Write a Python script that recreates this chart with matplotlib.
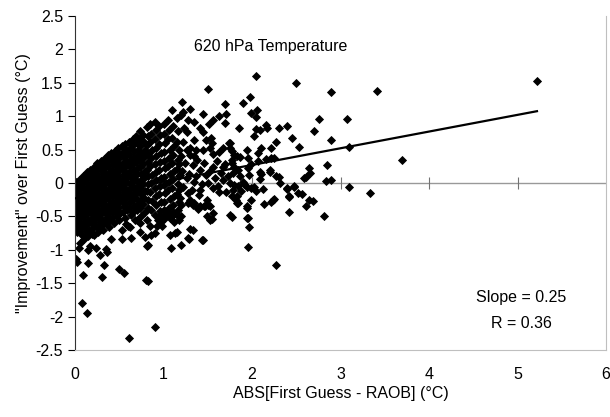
import numpy as np
import matplotlib
matplotlib.use('Agg')
import matplotlib.pyplot as plt

#-----------------------------------------------------------------------------#
# Data (x = |first guess - RAOB|, y = improvement), deg C
#-----------------------------------------------------------------------------#

# dense cloud near the origin
dense_pts = [
    (0.01,0.02),(0.02,-0.05),(0.01,-0.12),(0.03,-0.2),(0.02,-0.28),(0.01,-0.35),(0.03,-0.42),(0.02,-0.5),(0.01,-0.58),(0.03,-0.66),(0.02,-0.74),
    (0.05,0.05),(0.06,-0.02),(0.05,-0.09),(0.07,-0.16),(0.06,-0.24),(0.05,-0.31),(0.07,-0.38),(0.06,-0.46),(0.05,-0.54),(0.07,-0.61),(0.06,-0.69),(0.08,-0.78),
    (0.09,0.1),(0.1,0.03),(0.09,-0.06),(0.11,-0.13),(0.1,-0.21),(0.09,-0.27),(0.11,-0.35),(0.1,-0.42),(0.09,-0.5),(0.11,-0.57),(0.1,-0.65),(0.12,-0.72),(0.1,-0.84),
    (0.13,0.16),(0.14,0.08),(0.13,0.0),(0.15,-0.08),(0.14,-0.16),(0.13,-0.24),(0.15,-0.31),(0.14,-0.39),(0.13,-0.47),(0.15,-0.55),(0.14,-0.62),(0.16,-0.7),(0.15,-0.8),
    (0.17,0.2),(0.18,0.12),(0.19,0.04),(0.18,-0.04),(0.19,-0.12),(0.17,-0.2),(0.19,-0.28),(0.18,-0.36),(0.17,-0.44),(0.19,-0.52),(0.18,-0.6),(0.2,-0.67),(0.19,-0.76),
    (0.21,0.24),(0.22,0.16),(0.21,0.08),(0.23,0.0),(0.22,-0.08),(0.21,-0.16),(0.23,-0.24),(0.22,-0.32),(0.21,-0.4),(0.23,-0.48),(0.22,-0.56),(0.24,-0.64),
    (0.25,0.3),(0.26,0.22),(0.25,0.13),(0.27,0.05),(0.26,-0.03),(0.25,-0.11),(0.27,-0.19),(0.26,-0.27),(0.25,-0.35),(0.27,-0.43),(0.26,-0.51),(0.28,-0.59),(0.27,-0.68),
    (0.29,0.33),(0.3,0.26),(0.31,0.18),(0.3,0.09),(0.29,0.01),(0.31,-0.07),(0.3,-0.15),(0.29,-0.23),(0.31,-0.31),(0.3,-0.39),(0.29,-0.47),(0.31,-0.55),(0.3,-0.63),(0.32,-0.71),
    (0.33,0.36),(0.34,0.29),(0.33,0.21),(0.35,0.13),(0.34,0.05),(0.33,-0.03),(0.35,-0.11),(0.34,-0.19),(0.33,-0.27),(0.35,-0.35),(0.34,-0.43),(0.36,-0.51),(0.35,-0.6),
    (0.37,0.42),(0.38,0.34),(0.37,0.26),(0.39,0.17),(0.38,0.09),(0.37,0.01),(0.39,-0.07),(0.38,-0.15),(0.37,-0.23),(0.39,-0.31),(0.38,-0.39),(0.37,-0.47),(0.39,-0.56),(0.38,-0.66),
    (0.41,0.45),(0.42,0.37),(0.43,0.29),(0.42,0.2),(0.41,0.12),(0.43,0.04),(0.42,-0.04),(0.41,-0.12),(0.43,-0.2),(0.42,-0.28),(0.41,-0.36),(0.43,-0.44),(0.42,-0.52),(0.44,-0.6),
    (0.45,0.48),(0.46,0.4),(0.45,0.32),(0.47,0.24),(0.46,0.15),(0.45,0.07),(0.47,-0.01),(0.46,-0.09),(0.45,-0.17),(0.47,-0.25),(0.46,-0.33),(0.45,-0.41),(0.47,-0.5),
    (0.49,0.52),(0.5,0.44),(0.49,0.36),(0.51,0.27),(0.5,0.19),(0.49,0.11),(0.51,0.03),(0.5,-0.05),(0.49,-0.13),(0.51,-0.21),(0.5,-0.29),(0.49,-0.37),(0.51,-0.45),(0.5,-0.55),
    (0.53,0.55),(0.54,0.47),(0.55,0.39),(0.54,0.3),(0.53,0.22),(0.55,0.14),(0.54,0.06),(0.53,-0.02),(0.55,-0.1),(0.54,-0.18),(0.53,-0.26),(0.55,-0.34),(0.54,-0.43),(0.56,-0.52),
    (0.57,0.58),(0.58,0.5),(0.57,0.41),(0.59,0.33),(0.58,0.25),(0.57,0.17),(0.59,0.09),(0.58,0.01),(0.57,-0.07),(0.59,-0.15),(0.58,-0.23),(0.57,-0.31),(0.59,-0.4),(0.58,-0.62),
    (0.61,0.62),(0.62,0.53),(0.61,0.44),(0.63,0.35),(0.62,0.26),(0.61,0.17),(0.63,0.08),(0.62,-0.01),(0.61,-0.1),(0.63,-0.19),(0.62,-0.28),(0.61,-0.38),(0.63,-0.48),
    (0.65,0.66),(0.66,0.57),(0.67,0.48),(0.66,0.38),(0.65,0.29),(0.67,0.2),(0.66,0.11),(0.65,0.02),(0.67,-0.07),(0.66,-0.16),(0.65,-0.25),(0.67,-0.34),(0.66,-0.44),(0.68,-0.55),
    (0.69,0.7),(0.7,0.6),(0.71,0.5),(0.7,0.4),(0.69,0.32),(0.71,0.23),(0.7,0.14),(0.69,0.05),(0.71,-0.04),(0.7,-0.13),(0.69,-0.22),(0.71,-0.31),(0.7,-0.41),
    (0.73,0.78),(0.74,0.66),(0.73,0.55),(0.75,0.45),(0.74,0.34),(0.73,0.24),(0.75,0.13),(0.74,0.03),(0.73,-0.07),(0.75,-0.17),(0.74,-0.27),(0.73,-0.37),(0.75,-0.5),
    (0.77,0.72),(0.78,0.61),(0.79,0.49),(0.78,0.39),(0.77,0.28),(0.79,0.18),(0.78,0.08),(0.77,-0.02),(0.79,-0.12),(0.78,-0.22),(0.77,-0.32),(0.79,-0.44),
    (0.81,0.84),(0.82,0.7),(0.81,0.57),(0.83,0.44),(0.82,0.31),(0.81,0.2),(0.83,0.1),(0.82,-0.01),(0.81,-0.12),(0.83,-0.25),(0.82,-0.38),
    (0.85,0.88),(0.86,0.74),(0.85,0.62),(0.87,0.5),(0.86,0.37),(0.85,0.25),(0.87,0.12),(0.86,0.0),(0.85,-0.13),(0.87,-0.27),(0.86,-0.41),
    (0.9,0.92),(0.91,0.79),(0.9,0.66),(0.92,0.53),(0.91,0.4),(0.9,0.28),(0.92,0.16),(0.91,0.05),(0.9,-0.07),(0.92,-0.2),(0.91,-0.33),(0.9,-0.48),
    (0.95,0.85),(0.96,0.72),(0.95,0.58),(0.97,0.45),(0.96,0.32),(0.95,0.2),(0.97,0.08),(0.96,-0.04),(0.95,-0.16),(0.97,-0.29),(0.96,-0.42),
    (1.0,0.89),(1.01,0.74),(1.02,0.6),(1.0,0.47),(1.01,0.33),(1.02,0.22),(1.0,0.09),(1.01,-0.03),(1.02,-0.15),(1.0,-0.28),(1.01,-0.4),
    (1.05,0.95),(1.06,0.8),(1.05,0.66),(1.07,0.5),(1.06,0.38),(1.05,0.26),(1.07,0.13),(1.06,0.01),(1.05,-0.11),(1.07,-0.24),(1.06,-0.37),
    (1.1,1.1),(1.11,0.85),(1.1,0.68),(1.12,0.55),(1.11,0.42),(1.1,0.3),(1.12,0.18),(1.11,0.06),(1.1,-0.07),(1.12,-0.2),(1.11,-0.33),(1.1,-0.5),
    (1.15,0.98),(1.16,0.78),(1.15,0.62),(1.17,0.49),(1.16,0.35),(1.15,0.21),(1.17,0.1),(1.16,-0.02),(1.15,-0.16),(1.17,-0.28),(1.16,-0.4),
    (1.2,0.4),(1.24,0.3),(1.21,0.18),(1.26,0.08),(1.22,-0.06),(1.28,-0.15),(1.3,0.42),(1.33,0.27),(1.29,0.14),(1.35,0.02),(1.32,-0.1),
    (1.38,0.35),(1.41,0.2),(1.37,0.1),(1.43,-0.02),(1.4,-0.18),(1.46,0.3),(1.48,0.12),(1.5,0.0),(1.53,0.18),(1.58,0.08),(1.6,0.33),
    (1.62,-0.05),(1.65,0.15),(1.7,0.28),(1.73,0.1),(1.78,0.15),(1.86,0.1),(1.88,-0.12),(1.26,0.5),(1.34,0.4),(1.18,0.28),(1.19,0.12),
    (1.18,-0.1),(1.19,-0.22),
]

# scattered points away from the main cloud
sparse_pts = [
    (2.04,1.60),(2.50,1.49),(2.89,1.36),(1.90,1.20),(1.98,1.28),(1.99,1.05),(2.06,1.10),(2.05,0.99),(2.76,0.96),(1.85,0.83),
    (2.04,0.81),(2.09,0.80),(2.16,0.87),(2.17,0.83),(2.31,0.83),(2.39,0.86),(2.70,0.78),(2.02,0.70),(2.45,0.68),(2.89,0.64),
    (2.27,0.62),(2.53,0.54),(2.10,0.53),(1.94,0.49),(2.22,0.52),(2.07,0.45),(1.83,0.41),(1.75,0.60),(1.77,0.48),(1.95,0.37),
    (2.16,0.36),(2.22,0.38),(2.25,0.38),(2.07,0.33),(1.99,0.29),(2.64,0.23),(2.85,0.27),(1.77,0.30),(1.95,0.22),
    (1.97,0.12),(2.10,0.13),(2.20,0.17),(2.27,0.10),(2.09,0.06),(2.32,0.00),(2.65,0.15),(2.61,0.09),(2.84,0.03),(1.91,-0.01),
    (2.02,-0.06),(2.12,-0.09),(2.05,-0.12),(2.47,-0.05),(2.39,-0.09),(2.52,-0.15),(2.57,-0.17),(2.42,-0.19),(1.79,-0.10),
    (1.83,-0.19),(2.64,-0.26),(2.69,-0.27),(2.61,-0.34),(2.25,-0.24),(2.22,-0.28),(2.14,-0.31),(1.83,-0.30),(1.94,-0.37),
    (2.42,-0.43),(1.77,-0.51),(1.94,-0.53),(2.81,-0.50),(1.97,-0.66),(1.95,-0.96),(2.27,-1.23),
    (3.41,1.37),(5.22,1.53),(3.07,0.96),(3.10,0.54),(3.70,0.35),(3.10,-0.06),(3.33,-0.15),
    (1.50,1.40),(1.21,1.21),(1.70,1.18),(1.30,1.11),(1.22,1.07),(1.20,1.02),(1.45,1.03),(1.71,1.03),(1.63,1.00),(1.56,0.95),
    (1.35,0.92),(1.28,0.95),(1.69,0.90),(1.51,0.88),(1.23,0.82),(1.27,0.77),(1.41,0.82),(1.45,0.77),(1.22,0.62),(1.35,0.64),
    (1.48,0.64),(1.54,0.67),(1.55,0.60),(1.74,0.60),(1.30,0.53),(1.37,0.50),(1.45,0.49),(1.52,0.52),(1.56,0.44),(1.67,0.52),
    (1.63,0.47),(1.75,0.53),(1.80,0.42),(1.86,0.39),(1.77,0.34),(1.56,0.24),(1.67,0.24),(1.80,0.24),(1.84,0.19),(2.09,0.17),
    (2.20,0.19),(2.31,0.09),(2.59,0.07),(2.89,0.04),(2.39,-0.08),(2.42,-0.21),(2.48,-0.06),(1.94,-0.06),(1.99,-0.08),(1.90,0.02),
    (1.67,0.04),(1.75,0.0),(1.80,-0.03),(1.84,-0.05),(1.56,-0.08),(1.63,-0.13),(1.71,-0.13),(1.77,-0.2),(1.82,-0.25),(1.41,-0.1),
    (1.49,-0.25),(1.41,-0.35),(1.52,-0.35),(1.56,-0.45),(1.49,-0.5),(1.75,-0.48),(1.94,-0.35),(1.99,-0.25),(2.24,-0.25),
    (1.53,-0.55),(1.55,-0.54),(1.20,-0.33),(1.28,-0.30),(1.33,-0.33),(1.39,-0.39),(1.46,-0.35),(1.84,-0.30),(1.95,-0.53),
    (1.30,-0.69),(1.33,-0.71),(1.29,-0.84),(1.45,-0.85),(1.20,-0.93),(1.39,-0.38),(1.47,-0.35),(1.50,-0.33),(1.30,-0.25),(1.35,-0.30),
    (0.61,-2.32),(0.90,-2.15),(0.08,-1.79),(0.13,-1.94),(0.80,-1.45),(0.82,-1.46),(0.50,-1.29),(0.55,-1.34),(0.31,-1.40),
    (0.09,-1.38),(0.15,-1.20),(0.33,-1.23),(0.28,-1.08),(0.35,-0.99),(0.36,-1.03),(0.15,-1.0),(0.17,-0.95),(0.24,-0.97),
    (0.06,-0.90),(0.53,-0.84),(0.63,-0.83),(0.73,-0.74),(0.83,-0.93),(0.81,-0.95),(0.41,-0.84),(0.21,-0.78),(0.26,-0.73),
    (0.53,-0.71),(0.60,-0.64),(0.01,-1.14),(0.02,-1.18),(0.04,-0.97),
    (0.97,-0.58),(1.02,-0.53),(1.12,-0.58),(1.17,-0.55),(1.05,-0.45),(1.0,-0.48),(0.95,-0.5),
    (1.08,-0.98),(1.13,-0.75),(1.15,-0.73),(1.07,-0.78),(1.28,-0.83),(0.70,-0.55),(0.73,-0.6),(0.62,-0.66),
    (1.44,-0.85),(0.79,-0.81),(0.86,-0.78),(0.90,-0.75),(0.93,-0.65),(1.11,-0.43),(1.15,-0.48),(1.20,-0.50),
    (1.07,-0.53),(0.94,-0.55),(0.98,-0.65),(0.81,-0.55),(0.85,-0.65),
]

slope = 0.25
intercept = -0.23
r_value = 0.36
x_ticks = [0, 1, 2, 3, 4, 5, 6]
y_ticks = [2.5, 2, 1.5, 1, 0.5, 0, -0.5, -1, -1.5, -2, -2.5]
y_ticklabels = ['2.5', '2', '1.5', '1', '0.5', '0', '-0.5', '-1', '-1.5', '-2', '-2.5']

#-----------------------------------------------------------------------------#
# Plot
#-----------------------------------------------------------------------------#

plt.rcParams['font.family'] = ['Liberation Sans', 'DejaVu Sans']

pts = np.array(dense_pts + sparse_pts)

fig = plt.figure(figsize=(6.1, 4.17), dpi=100)
ax = fig.add_axes([75/610, 1-350/417, (606-75)/610, (350-16)/417])

# x axis crossing at zero (grey, with tick marks)
ax.axhline(0, color='0.6', lw=1.0, zorder=1)
ax.plot(x_ticks[1:-1], [0]*(len(x_ticks)-2), '|', color='0.45', ms=9, mew=0.8, zorder=1)

ax.plot(pts[:, 0], pts[:, 1], 'D', color='black', ms=3.8, mew=0.6, zorder=2)

xfit = np.array([0, pts[:, 0].max()])
ax.plot(xfit, intercept + slope*xfit, color='black', lw=1.6, zorder=3)

ax.text(1.35, 2.05, '620 hPa Temperature', fontsize=11.5, va='center', ha='left')
ax.text(5.04, -1.71, 'Slope = %.2f' % slope, fontsize=11.5, ha='center', va='center')
ax.text(5.04, -2.10, 'R = %.2f' % r_value, fontsize=11.5, ha='center', va='center')

ax.set_xlim(0, 6)
ax.set_ylim(-2.5, 2.5)
ax.set_xticks(x_ticks)
ax.set_yticks(y_ticks)
ax.set_yticklabels(y_ticklabels)
ax.tick_params(axis='x', length=0, pad=12, labelsize=11.5)
ax.tick_params(axis='y', direction='out', length=5, width=0.8, labelsize=11.5)

ax.spines['top'].set_visible(False)
ax.spines['left'].set_color('0.2')
ax.spines['bottom'].set_color('0.75')
ax.spines['right'].set_color('0.75')

ax.set_xlabel('ABS[First Guess - RAOB] (°C)', fontsize=11.5, labelpad=3)
ax.set_ylabel('"Improvement" over First Guess (°C)', fontsize=11.5, labelpad=3)

fig.savefig('out.png', dpi=100)
